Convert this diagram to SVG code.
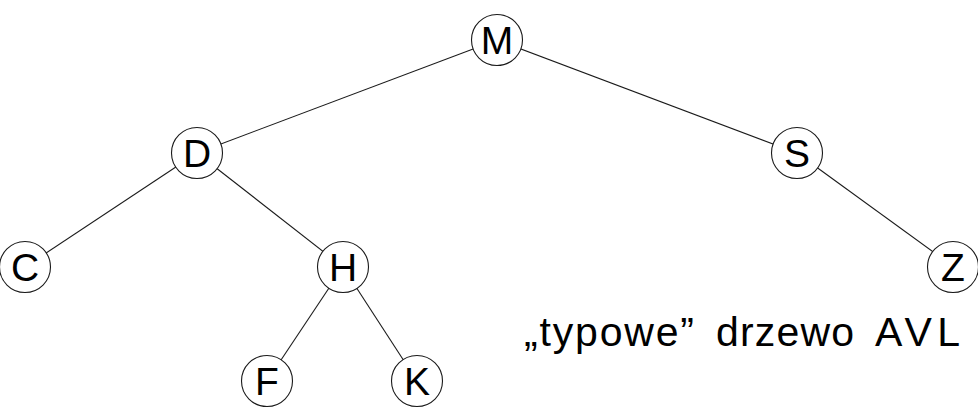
<svg xmlns="http://www.w3.org/2000/svg" width="978" height="411" viewBox="0 0 978 411">
  <style>
    .node circle { fill: #ffffff; stroke: #1a1a1a; stroke-width: 1.1; }
    .node text { font-family: "Liberation Sans", Arial, sans-serif; font-size: 39px; fill: #000000; text-anchor: middle; }
    .edges line { stroke: #1a1a1a; stroke-width: 1.1; }
    .caption { font-family: "Liberation Sans", Arial, sans-serif; font-size: 41px; fill: #000000; }
  </style>
  <rect width="978" height="411" fill="#ffffff"/>

  <!-- tree edges run centre to centre; the white node discs cover the ends -->
  <g class="edges">
    <line x1="497" y1="40" x2="197" y2="153"/>
    <line x1="497" y1="40" x2="797" y2="153"/>
    <line x1="197" y1="153" x2="25" y2="267"/>
    <line x1="197" y1="153" x2="343" y2="267"/>
    <line x1="797" y1="153" x2="954" y2="267"/>
    <line x1="343" y1="267" x2="267" y2="381"/>
    <line x1="343" y1="267" x2="417" y2="381"/>
  </g>

  <g id="node-M" class="node"><circle cx="497" cy="40" r="25.5"/><text x="497" y="54">M</text></g>
  <g id="node-D" class="node"><circle cx="197" cy="153" r="25.5"/><text x="197" y="167">D</text></g>
  <g id="node-S" class="node"><circle cx="797" cy="153" r="25.5"/><text x="797" y="167">S</text></g>
  <g id="node-C" class="node"><circle cx="25" cy="267" r="25.5"/><text x="25" y="281">C</text></g>
  <g id="node-H" class="node"><circle cx="343" cy="267" r="25.5"/><text x="343" y="281">H</text></g>
  <g id="node-Z" class="node"><circle cx="953" cy="267" r="25.5"/><text x="953" y="281">Z</text></g>
  <g id="node-F" class="node"><circle cx="267" cy="381" r="25.5"/><text x="267" y="395">F</text></g>
  <g id="node-K" class="node"><circle cx="417" cy="381" r="25.5"/><text x="417" y="395">K</text></g>

  <!-- caption, one piece per word -->
  <g id="caption" class="caption">
    <text x="524" y="346" textLength="170" lengthAdjust="spacing">„typowe”</text>
    <text x="716" y="346" textLength="138" lengthAdjust="spacing">drzewo</text>
    <text x="875" y="346" textLength="85" lengthAdjust="spacing">AVL</text>
  </g>
</svg>
